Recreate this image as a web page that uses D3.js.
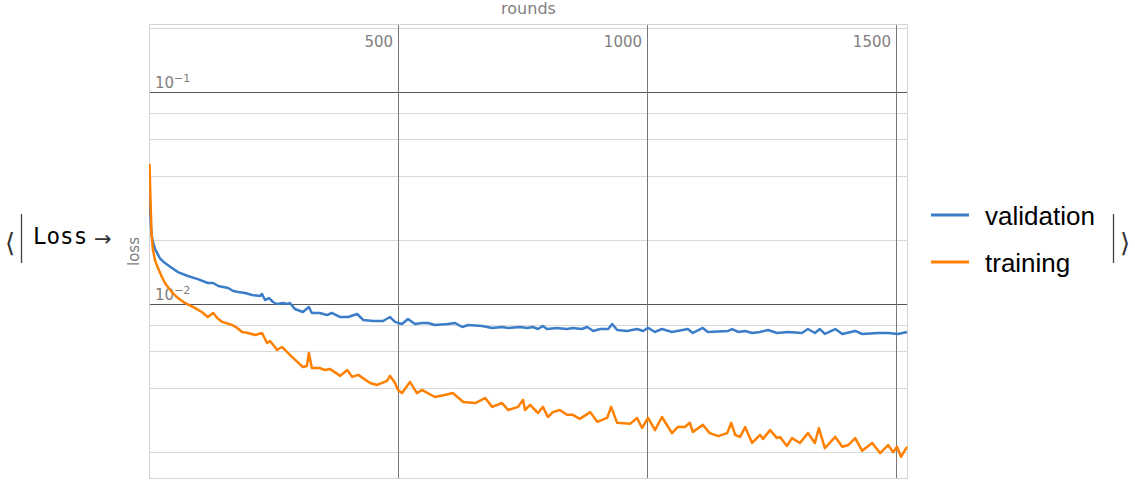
<!DOCTYPE html>
<html><head><meta charset="utf-8">
<script src="https://cdn.jsdelivr.net/npm/d3@7"></script>
<style>body{margin:0;background:#fff}svg{display:block}</style>
</head><body><svg id="c" width="1135" height="482"></svg>
<script>
const valRounds = [1,4,6,12,22,32,46,58,78,98,118,129,139,159,169,179,193,207,223,227,233,241,249,257,269,279,283,293,309,321,327,343,357,367,384,400,418,430,450,470,484,494,500,508,520,534,548,560,574,600,614,629,641,669,689,709,721,745,759,771,781,791,799,819,839,851,869,880,892,906,922,930,940,960,980,992,1002,1016,1030,1050,1082,1092,1112,1122,1163,1171,1183,1197,1211,1227,1243,1261,1283,1311,1323,1337,1347,1357,1378,1392,1418,1432,1464,1484,1504,1522];
const valLoss = [0.0316,0.0231,0.0205,0.0182,0.0164,0.0156,0.0148,0.01415,0.01355,0.0131,0.01256,0.01256,0.01216,0.0119,0.01152,0.01139,0.01127,0.01103,0.01091,0.01115,0.01044,0.01067,0.01022,0.0100,0.01011,0.0100,0.01011,0.00947,0.00917,0.00968,0.00907,0.00907,0.00887,0.00907,0.00868,0.00868,0.00897,0.00841,0.00831,0.00831,0.00868,0.00823,0.00814,0.00805,0.00850,0.00805,0.00814,0.00814,0.00796,0.00805,0.00814,0.00779,0.00796,0.00788,0.00771,0.00779,0.00771,0.00779,0.00771,0.00779,0.00762,0.00788,0.00762,0.00771,0.00762,0.00771,0.00762,0.00779,0.00746,0.00762,0.00762,0.00805,0.00754,0.00746,0.00762,0.00746,0.00771,0.00738,0.00762,0.00738,0.00762,0.00730,0.00771,0.00738,0.00746,0.00762,0.00738,0.00746,0.00730,0.00738,0.00754,0.00730,0.00738,0.00730,0.00762,0.00730,0.00762,0.00722,0.00762,0.00722,0.00746,0.00722,0.00730,0.00730,0.00722,0.00738];

const trainRounds = [1,3,5,8,12,18,26,32,38,46,58,72,92,106,118,129,137,147,167,177,187,199,213,227,237,243,253,257,267,283,309,317,321,327,343,353,363,384,398,408,420,444,458,478,484,494,500,508,524,538,548,574,594,610,631,655,675,689,709,721,741,751,755,765,781,791,801,811,825,839,851,865,886,900,920,928,940,966,980,990,1002,1016,1030,1050,1062,1076,1086,1092,1112,1126,1143,1161,1169,1177,1187,1197,1211,1227,1233,1247,1261,1267,1281,1291,1307,1323,1337,1345,1357,1378,1392,1404,1418,1432,1452,1468,1484,1494,1502,1510,1522];
const trainLoss = [0.0458,0.0310,0.0216,0.0180,0.0161,0.0148,0.01341,0.01256,0.01203,0.01139,0.01067,0.01011,0.00958,0.00917,0.00868,0.00907,0.00859,0.00823,0.00796,0.00771,0.00738,0.00730,0.00714,0.00730,0.00655,0.00668,0.00627,0.00607,0.00627,0.00575,0.00504,0.00510,0.00587,0.00499,0.00499,0.00488,0.00494,0.00458,0.00488,0.00453,0.00463,0.00424,0.00415,0.00434,0.00458,0.00424,0.00393,0.00380,0.00429,0.00380,0.00393,0.00364,0.00372,0.00380,0.00345,0.00341,0.00360,0.00327,0.00341,0.00316,0.00327,0.00353,0.00316,0.00334,0.00306,0.00327,0.00293,0.00309,0.00316,0.00300,0.00300,0.00287,0.00309,0.00278,0.00290,0.00327,0.00275,0.00272,0.00290,0.00260,0.00290,0.00254,0.00293,0.00246,0.00263,0.00263,0.00275,0.00249,0.00269,0.00246,0.00238,0.00246,0.00275,0.00241,0.00236,0.00263,0.00221,0.00241,0.00231,0.00254,0.00233,0.00236,0.00214,0.00233,0.00221,0.00246,0.00221,0.00260,0.00209,0.00236,0.00212,0.00216,0.00233,0.00203,0.00221,0.00198,0.00216,0.00200,0.00212,0.00190,0.00212];

const seriesNames = ["validation","training"];
const seriesColors = ["#3b7dc8","#ff8000"];
const xTicks = [500,1000,1500];
const yMajorTicks = [0.1,0.01];
const yMajorLabels = ["\u22121","\u22122"];
const yMinorGrid = [0.2,0.08,0.06,0.04,0.02,0.008,0.006,0.004,0.002];
const xDomain = [0,1524];
const yDomain = [0.001494,0.2094];

const svg = d3.select("#c");
const L=149,R=908,T=24,B=479;
const x = d3.scaleLinear().domain(xDomain).range([L,R]);
const y = d3.scaleLog().domain(yDomain).range([B,T]);
const gray="#808080";

svg.append("g").selectAll("line").data(yMinorGrid).join("line")
  .attr("x1",L).attr("x2",R).attr("y1",d=>Math.round(y(d))+0.5).attr("y2",d=>Math.round(y(d))+0.5)
  .attr("stroke","#d9d9d9").attr("stroke-width",1);
svg.append("g").selectAll("line").data(yMajorTicks).join("line")
  .attr("x1",L).attr("x2",R).attr("y1",d=>Math.round(y(d))+0.5).attr("y2",d=>Math.round(y(d))+0.5)
  .attr("stroke","#555").attr("stroke-width",1);
svg.append("g").selectAll("line").data(xTicks).join("line")
  .attr("y1",T).attr("y2",B).attr("x1",d=>Math.round(x(d))+0.5).attr("x2",d=>Math.round(x(d))+0.5)
  .attr("stroke","#777").attr("stroke-width",1);
svg.append("rect").attr("x",L+0.5).attr("y",T+0.5).attr("width",R-L-1).attr("height",B-T-1)
  .attr("fill","none").attr("stroke","#d4d4d4");

svg.append("g").selectAll("text").data(xTicks).join("text")
  .attr("x",d=>x(d)-5).attr("y",47).attr("text-anchor","end")
  .attr("font-family","DejaVu Sans").attr("font-size",15).attr("fill",gray).text(d=>d);
yMajorTicks.forEach((v,i)=>{
  const t = svg.append("text").attr("x",155).attr("y",y(v)-4)
    .attr("font-family","DejaVu Sans").attr("font-size",15).attr("fill",gray);
  t.append("tspan").text("10");
  t.append("tspan").attr("dy",-6).attr("font-size",11).text(yMajorLabels[i]);
});

svg.append("text").attr("x",(L+R)/2).attr("y",14).attr("text-anchor","middle")
  .attr("font-family","DejaVu Sans").attr("font-size",16).attr("fill",gray).text("rounds");
svg.append("text").attr("transform",`translate(139,${(T+B)/2}) rotate(-90)`).attr("text-anchor","middle")
  .attr("font-family","DejaVu Sans").attr("font-size",15).attr("fill",gray).text("loss");

const line = d3.line().x(d=>x(d[0])).y(d=>y(d[1]));
const series = [d3.zip(valRounds,valLoss), d3.zip(trainRounds,trainLoss)];
svg.append("defs").append("clipPath").attr("id","clip").append("rect")
  .attr("x",L).attr("y",T).attr("width",R-L).attr("height",B-T);
svg.append("g").attr("clip-path","url(#clip)").selectAll("path").data(series).join("path")
  .attr("d",line).attr("fill","none").attr("stroke",(d,i)=>seriesColors[i])
  .attr("stroke-width",2.5).attr("stroke-linejoin","round");

const lg = svg.append("g");
seriesNames.forEach((n,i)=>{
  const yy = 215 + i*47;
  lg.append("line").attr("x1",931).attr("x2",969).attr("y1",yy).attr("y2",yy)
    .attr("stroke",seriesColors[i]).attr("stroke-width",3);
  lg.append("text").attr("x",985).attr("y",yy+10).attr("font-family","Liberation Sans, Arial")
    .attr("font-size",26).attr("fill","#000").text(n);
});

svg.append("text").attr("x",5).attr("y",252).attr("font-family","DejaVu Sans").attr("font-size",26).attr("fill","#333").text("\u27E8");
svg.append("line").attr("x1",21.5).attr("x2",21.5).attr("y1",214).attr("y2",263).attr("stroke","#444").attr("stroke-width",1.3);
svg.append("text").attr("x",33).attr("y",244).attr("font-family","DejaVu Sans Mono").attr("font-size",22.5).attr("fill","#000").text("Loss");
svg.append("text").attr("x",94).attr("y",246).attr("font-family","DejaVu Sans").attr("font-size",21).attr("fill","#333").text("\u2192");
svg.append("line").attr("x1",1113.5).attr("x2",1113.5).attr("y1",214).attr("y2",263).attr("stroke","#444").attr("stroke-width",1.3);
svg.append("text").attr("x",1120).attr("y",252).attr("font-family","DejaVu Sans").attr("font-size",26).attr("fill","#333").text("\u27E9");
</script></body></html>
